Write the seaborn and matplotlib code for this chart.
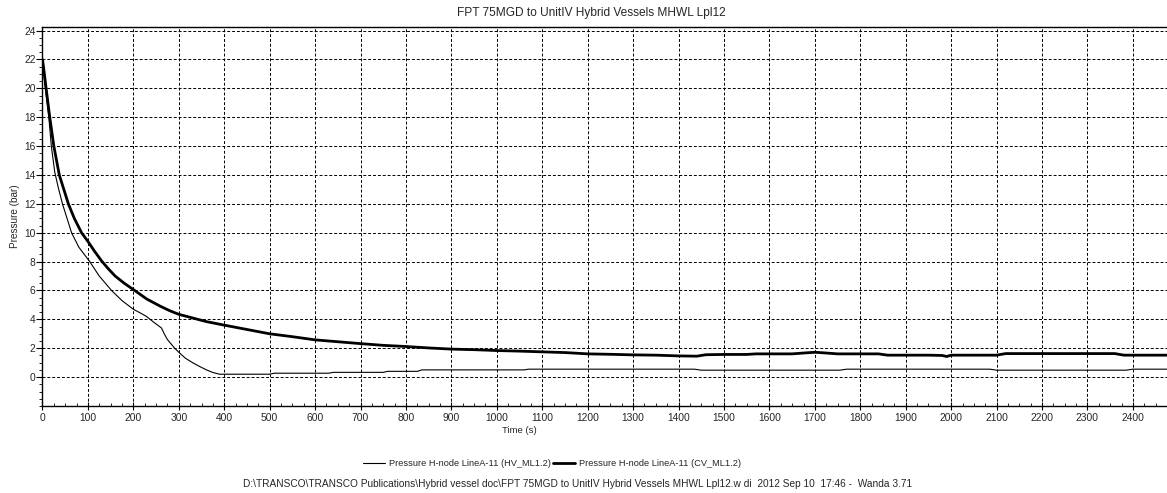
import numpy as np
import pandas as pd
import matplotlib
matplotlib.use("Agg")
import matplotlib.pyplot as plt
from matplotlib.ticker import MultipleLocator
import seaborn as sns

# Pressure at H-node LineA-11, hybrid vessel case (HV_ML1.2)
hv_time = [0, 3, 7, 14, 19.5, 27, 35, 44, 54, 64, 80, 104, 125, 152, 175, 200, 215,
           229, 245, 262, 268, 275, 291, 302, 315, 332, 345, 361, 375, 390, 500, 510,
           630, 640, 750, 760, 825, 835, 1060, 1070, 1435, 1450, 1755, 1770, 2085, 2100,
           2385, 2400, 2475]
hv_pressure = [22, 21, 19.8, 18, 16, 14.2, 13.1, 12, 11, 10, 9.0, 8, 7.0, 6, 5.3, 4.7, 4.45,
               4.2, 3.8, 3.4, 3.0, 2.6, 2.0, 1.66, 1.3, 0.97, 0.75, 0.5, 0.32, 0.2, 0.2, 0.27,
               0.27, 0.33, 0.33, 0.4, 0.4, 0.5, 0.5, 0.55, 0.55, 0.48, 0.48, 0.55, 0.55, 0.48,
               0.48, 0.55, 0.55]

# Pressure at H-node LineA-11, closed vessel case (CV_ML1.2)
cv_time = [0, 3, 8, 16, 25, 37, 47, 57, 70, 86, 100, 115, 130, 145, 160, 180, 203, 230,
           260, 280, 300, 330, 360, 400, 450, 500, 550, 600, 650, 700, 750, 800, 850, 900,
           950, 1000, 1050, 1100, 1150, 1200, 1250, 1300, 1350, 1400, 1440, 1460, 1500,
           1550, 1570, 1600, 1650, 1680, 1700, 1720, 1750, 1800, 1840, 1860, 1900, 1950,
           1980, 1990, 2000, 2050, 2100, 2120, 2200, 2300, 2360, 2380, 2475]
cv_pressure = [22, 21.3, 20, 18, 16, 14, 13, 12, 11, 10, 9.4, 8.7, 8.05, 7.5, 7.0, 6.5, 6.0,
               5.4, 4.9, 4.6, 4.35, 4.1, 3.85, 3.6, 3.3, 3.0, 2.8, 2.58, 2.45, 2.32, 2.2,
               2.12, 2.02, 1.94, 1.9, 1.84, 1.8, 1.75, 1.7, 1.61, 1.58, 1.54, 1.52, 1.47,
               1.45, 1.55, 1.57, 1.57, 1.61, 1.61, 1.61, 1.68, 1.72, 1.68, 1.61, 1.61, 1.61,
               1.52, 1.52, 1.52, 1.50, 1.43, 1.52, 1.52, 1.52, 1.63, 1.63, 1.63, 1.63, 1.52,
               1.52]

series_labels = ["Pressure H-node LineA-11 (HV_ML1.2)",
                 "Pressure H-node LineA-11 (CV_ML1.2)"]

title_text = "FPT 75MGD to UnitIV Hybrid Vessels MHWL Lpl12"
footer_text = ("D:\\TRANSCO\\TRANSCO Publications\\Hybrid vessel doc\\FPT 75MGD to UnitIV "
               "Hybrid Vessels MHWL Lpl12.w di  2012 Sep 10  17:46 -  Wanda 3.71")

sns.set_theme(style="white")
plt.rcParams["font.family"] = ["Liberation Sans", "DejaVu Sans"]
FS = 7.4

fig = plt.figure(figsize=(11.67, 4.93), dpi=100)
ax = fig.add_axes([0.0364, 0.1765, 0.9636, 0.7687])

hv = pd.DataFrame({"time": hv_time, "pressure": hv_pressure})
cv = pd.DataFrame({"time": cv_time, "pressure": cv_pressure})

sns.lineplot(data=hv, x="time", y="pressure", ax=ax, color="black", linewidth=0.8,
             estimator=None, sort=False, label=series_labels[0])
sns.lineplot(data=cv, x="time", y="pressure", ax=ax, color="black", linewidth=2.0,
             estimator=None, sort=False, label=series_labels[1])

ax.set_xlim(0, 2475)
ax.set_ylim(-2, 24.25)
ax.xaxis.set_major_locator(MultipleLocator(100))
ax.xaxis.set_minor_locator(MultipleLocator(25))
ax.yaxis.set_major_locator(MultipleLocator(2))
ax.yaxis.set_minor_locator(MultipleLocator(0.5))
ax.set_yticks(np.arange(0, 25, 2))

ax.grid(True, which="major", color="black", linestyle=(0, (3, 2)), linewidth=0.7)
ax.set_axisbelow(True)

for side in ["left", "bottom", "top"]:
    ax.spines[side].set_visible(True)
    ax.spines[side].set_color("black")
    ax.spines[side].set_linewidth(1.0)
ax.spines["right"].set_visible(False)

ax.tick_params(axis="y", which="major", direction="out", length=4, width=0.8,
               color="black", labelsize=FS, pad=1, left=True)
ax.tick_params(axis="y", which="minor", direction="out", length=2.5, width=0.6,
               color="black", left=True)
ax.tick_params(axis="x", which="major", direction="inout", length=6, width=0.8,
               color="black", labelsize=FS, pad=2, bottom=True)
ax.tick_params(axis="x", which="minor", direction="in", length=2.5, width=0.6,
               color="black", bottom=True)

ax.set_xlabel("")
ax.set_ylabel("Pressure (bar)", fontsize=7.2, labelpad=3)

fig.text(0.5065, 0.974, title_text, ha="center", va="center", fontsize=8.6)
fig.text(0.4447, 0.126, "Time (s)", ha="center", va="center", fontsize=6.8)
fig.text(0.4945, 0.018, footer_text, ha="center", va="center", fontsize=7.3)

handles, labels = ax.get_legend_handles_labels()
ax.get_legend().remove()
fig.legend(handles, labels, loc="center", bbox_to_anchor=(0.473, 0.059), ncol=2,
           frameon=False, fontsize=6.7, handlelength=2.4, handletextpad=0.4,
           columnspacing=0.2)

fig.savefig("out.png", dpi=100)
